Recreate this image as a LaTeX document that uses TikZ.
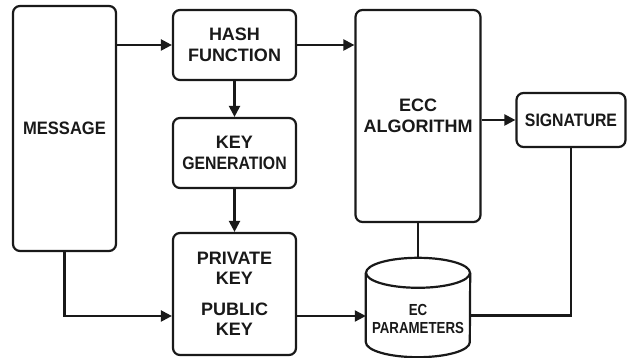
\documentclass[tikz,border=0pt]{standalone}
\usepackage{fontspec}
\setmainfont{Liberation Sans}
\newfontfamily\condA{Liberation Sans}[FakeStretch=0.88]
\newfontfamily\condB{Liberation Sans}[FakeStretch=0.92]
\newfontfamily\condC{Liberation Sans}[FakeStretch=0.83]
\usetikzlibrary{arrows.meta}
\tikzset{
  line/.style={line width=2.2pt, draw=black!90},
  box/.style={line, rectangle, rounded corners=7pt, align=center, inner sep=0pt,
    font=\bfseries\fontsize{18}{20.5}\selectfont, text=black!90},
  arr/.style={line, -{Triangle[length=11pt,width=11pt]}},
  conn/.style={line}
}
\begin{document}
\begin{tikzpicture}[x=1pt,y=1pt]
\useasboundingbox[fill=white] (0,0) rectangle (629,358);
\node[box, minimum width=103pt, minimum height=245pt] (msg) at (64.5,229.5) {\condB MESSAGE};
\node[box, minimum width=123pt, minimum height=70pt] (hash) at (234.5,313) {HASH\\FUNCTION};
\node[box, minimum width=123pt, minimum height=70pt] (keygen) at (234.5,205) {KEY\\\condA GENERATION};
\node[box, minimum width=123pt, minimum height=122pt] (keys) at (234.5,64) {PRIVATE\\KEY\\[10pt]PUBLIC\\KEY};
\node[box, minimum width=125pt, minimum height=212pt] (ecc) at (418,242) {ECC\\ALGORITHM};
\node[box, minimum width=109pt, minimum height=54pt] (sig) at (571,238) {\condA SIGNATURE};
% cylinder
\node[minimum width=104pt, minimum height=99pt, inner sep=0pt] (cyl) at (418,50.5) {};
\draw[line, line join=round] ([yshift=-15pt]cyl.north west) -- ([yshift=15pt]cyl.south west)
  arc[start angle=180, end angle=360, x radius=52pt, y radius=15pt]
  -- ([yshift=-15pt]cyl.north east);
\draw[line] ([yshift=-15pt]cyl.north) ellipse[x radius=52pt, y radius=15pt];
\node[align=center, inner sep=0pt, font=\condC\bfseries\fontsize{16}{18}\selectfont, text=black!90] (cyltext) at ([yshift=-11pt]cyl.center) {EC\\PARAMETERS};
% connectors
\draw[arr] (hash.west -| msg.east) -- (hash.west);
\draw[arr] (hash.east) -- (hash.east -| ecc.west);
\draw[arr] (hash.south) -- (keygen.north);
\draw[arr] (keygen.south) -- (keys.north);
\coordinate (kin) at ([yshift=-22pt]keys.west);
\coordinate (kout) at ([yshift=-22pt]keys.east);
\draw[arr] (msg.south) |- (kin);
\draw[arr] (kout) -- (kout -| cyl.west);
\draw[arr] (sig.west -| ecc.east) -- (sig.west);
\draw[conn] (ecc.south) -- (cyl.north);
\draw[conn] (sig.south) |- ([yshift=-8pt]cyl.east);
\end{tikzpicture}
\end{document}
